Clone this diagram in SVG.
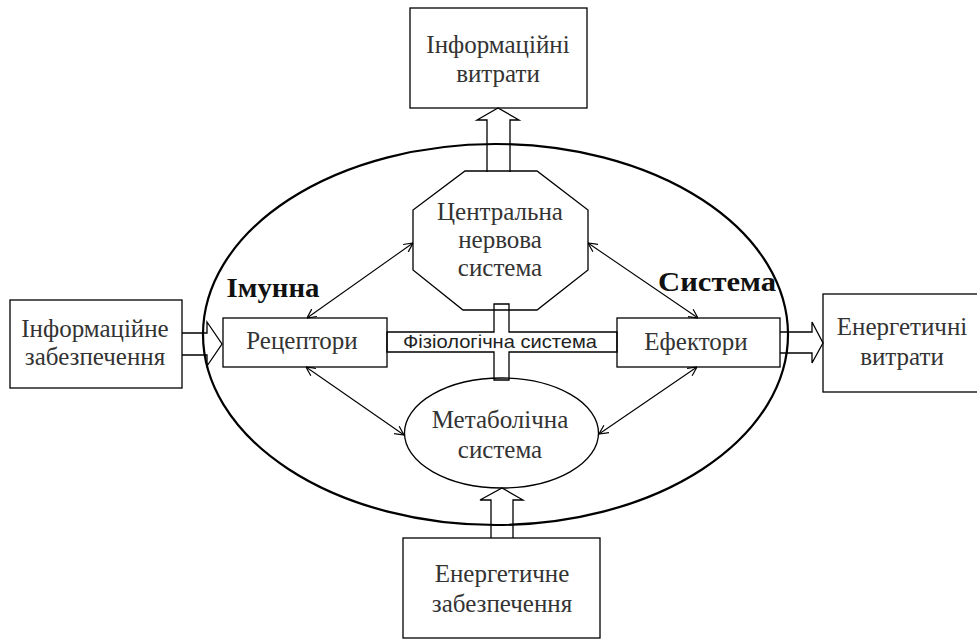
<svg xmlns="http://www.w3.org/2000/svg" width="977" height="640" viewBox="0 0 977 640">
<style>
.s{fill:none;stroke:#000;stroke-width:1.3}
.big{fill:none;stroke:#000;stroke-width:2.2}
.t{font-family:"Liberation Serif","Times New Roman",serif;font-size:25px;fill:#333;text-anchor:middle}
.b{font-family:"Liberation Serif","Times New Roman",serif;font-size:28px;font-weight:bold;fill:#111;text-anchor:middle}
.a{font-family:"Liberation Sans",Arial,sans-serif;font-size:19px;fill:#222;text-anchor:middle}
.c{fill:none;stroke:#000;stroke-width:1.1;marker-start:url(#v);marker-end:url(#v)}
</style>
<defs>
<marker id="v" viewBox="0 0 10 10" refX="10" refY="5" markerWidth="10" markerHeight="10" markerUnits="userSpaceOnUse" orient="auto-start-reverse">
<path d="M1,0.5 L10,5 L1,9.5" fill="none" stroke="#000" stroke-width="1.2"/>
</marker>
</defs>
<rect width="977" height="640" fill="#fff"/>
<g id="immune-system">
<ellipse class="big" cx="495.5" cy="334.5" rx="292.5" ry="190.5"/>
<text class="b" x="273" y="297" textLength="93" lengthAdjust="spacingAndGlyphs">Імунна</text>
<text class="b" x="717" y="291" textLength="118" lengthAdjust="spacingAndGlyphs">Система</text>
</g>
<g id="info-costs">
<rect class="s" x="410" y="8" width="177" height="100"/>
<text class="t" x="498" y="53">Інформаційні</text>
<text class="t" x="498" y="82">витрати</text>
</g>
<g id="cns">
<polygon class="s" points="465,171 537,171 588,210 588,270 537,310 463,310 413,270 413,210"/>
<text class="t" x="500" y="220">Центральна</text>
<text class="t" x="500" y="248">нервова</text>
<text class="t" x="500" y="276">система</text>
</g>
<g id="physiological-system">
<polygon class="s" points="494,304 509,304 509,332 617,332 617,352 509,352 509,380 494,380 494,352 387,352 387,332 494,332"/>
<text class="a" x="500" y="348" textLength="194" lengthAdjust="spacingAndGlyphs">Фізіологічна система</text>
</g>
<g id="receptors">
<rect class="s" x="223" y="318" width="164" height="49"/>
<text class="t" x="302" y="349">Рецептори</text>
</g>
<g id="effectors">
<rect class="s" x="617" y="318" width="163" height="49"/>
<text class="t" x="696" y="350">Ефектори</text>
</g>
<g id="metabolic">
<ellipse class="s" cx="501.5" cy="433" rx="97" ry="55"/>
<text class="t" x="500" y="428">Метаболічна</text>
<text class="t" x="500" y="458">система</text>
</g>
<g id="info-supply">
<rect class="s" x="10" y="300" width="172" height="88"/>
<text class="t" x="95" y="337">Інформаційне</text>
<text class="t" x="95" y="365">забезпечення</text>
</g>
<g id="energy-costs">
<rect class="s" x="823" y="294" width="160" height="98"/>
<text class="t" x="902" y="335">Енергетичні</text>
<text class="t" x="902" y="365">витрати</text>
</g>
<g id="energy-supply">
<rect class="s" x="403" y="538" width="197" height="100"/>
<text class="t" x="502" y="582">Енергетичне</text>
<text class="t" x="502" y="612">забезпечення</text>
</g>
<g id="connectors">
<polyline class="s" points="487,172 487,120 477,120 498,108 519,120 510,120 510,172"/>
<polyline class="s" points="182,333 207,333 207,322 222,344 207,366 207,355 182,355"/>
<polyline class="s" points="780,332 812,332 812,322 823,343 812,363 812,353 780,353"/>
<polyline class="s" points="491,538 491,500 480,500 502,488 523,500 513,500 513,538"/>
<line class="c" x1="307" y1="318" x2="413" y2="243"/>
<line class="c" x1="588" y1="243" x2="698" y2="318"/>
<line class="c" x1="306" y1="367" x2="404" y2="435"/>
<line class="c" x1="697" y1="367" x2="599" y2="434"/>
</g>
</svg>
